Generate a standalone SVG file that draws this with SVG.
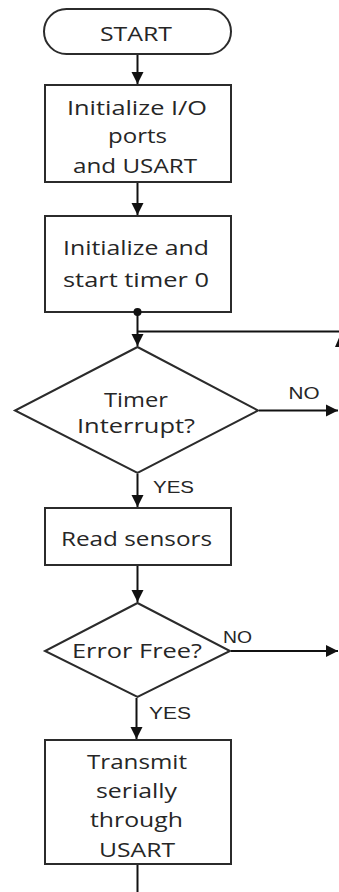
<svg xmlns="http://www.w3.org/2000/svg" width="339" height="892" viewBox="0 0 339 892">
<style>
.shape{fill:#fff;stroke:#2b2b2b;stroke-width:2}
.t{font-family:"Open Sans","Noto Sans",sans-serif;font-size:19.5px;fill:#262626;text-anchor:middle}
.lbl{font-family:"Liberation Sans",Arial,sans-serif;font-size:16px;fill:#262626;text-anchor:middle}
.c{fill:none;stroke:#111;stroke-width:2}
</style>
<defs>
<marker id="ah" markerUnits="userSpaceOnUse" markerWidth="14" markerHeight="14" viewBox="0 0 14 14" refX="12" refY="7" orient="auto">
<path d="M0,1 L12,7 L0,13 Z" fill="#111"/>
</marker>
</defs>
<g id="start">
<rect class="shape" x="44" y="9" width="187" height="45" rx="22.5"/>
<text class="t" x="136" y="41" textLength="72" lengthAdjust="spacingAndGlyphs">START</text>
</g>
<g id="init-io">
<rect class="shape" x="45" y="85" width="186" height="97"/>
<text class="t" x="137" y="115" textLength="140" lengthAdjust="spacingAndGlyphs">Initialize I/O</text>
<text class="t" x="137.5" y="143" textLength="59" lengthAdjust="spacingAndGlyphs">ports</text>
<text class="t" x="135" y="172.5" textLength="124" lengthAdjust="spacingAndGlyphs">and USART</text>
</g>
<g id="init-timer">
<rect class="shape" x="45" y="216" width="186" height="96"/>
<text class="t" x="136" y="255" textLength="146" lengthAdjust="spacingAndGlyphs">Initialize and</text>
<text class="t" x="136" y="286.5" textLength="146" lengthAdjust="spacingAndGlyphs">start timer 0</text>
</g>
<g id="timer-interrupt">
<polygon class="shape" points="137.5,347 258,410.5 137.5,473 15,410.5"/>
<text class="t" x="136" y="406.5" textLength="64" lengthAdjust="spacingAndGlyphs">Timer</text>
<text class="t" x="136" y="433" textLength="118" lengthAdjust="spacingAndGlyphs">Interrupt?</text>
</g>
<g id="read-sensors">
<rect class="shape" x="45" y="508" width="186" height="57"/>
<text class="t" x="136.5" y="546" textLength="151" lengthAdjust="spacingAndGlyphs">Read sensors</text>
</g>
<g id="error-free">
<polygon class="shape" points="137.5,603 230,651 137.5,697 45,651"/>
<text class="t" x="137" y="658" textLength="130" lengthAdjust="spacingAndGlyphs">Error Free?</text>
</g>
<g id="transmit">
<rect class="shape" x="45" y="740" width="186" height="124"/>
<text class="t" x="137" y="769" textLength="100" lengthAdjust="spacingAndGlyphs">Transmit</text>
<text class="t" x="136.5" y="798" textLength="81" lengthAdjust="spacingAndGlyphs">serially</text>
<text class="t" x="136.5" y="826.5" textLength="93" lengthAdjust="spacingAndGlyphs">through</text>
<text class="t" x="137" y="857" textLength="76" lengthAdjust="spacingAndGlyphs">USART</text>
</g>
<g id="connectors">
<line class="c" x1="137.5" y1="55" x2="137.5" y2="84" marker-end="url(#ah)"/>
<line class="c" x1="137.5" y1="183" x2="137.5" y2="215" marker-end="url(#ah)"/>
<line class="c" x1="137.5" y1="312" x2="137.5" y2="346" marker-end="url(#ah)"/>
<circle cx="137.5" cy="312" r="4" fill="#111"/>
<line class="c" x1="137.5" y1="331.5" x2="341" y2="331.5"/>
<line class="c" x1="341" y1="347" x2="341" y2="400"/>
<path d="M335,347 L341,333 L347,347 Z" fill="#111"/>
<line class="c" x1="259" y1="410.5" x2="338" y2="410.5" marker-end="url(#ah)"/>
<line class="c" x1="137.5" y1="474" x2="137.5" y2="507" marker-end="url(#ah)"/>
<line class="c" x1="137.5" y1="566" x2="137.5" y2="602" marker-end="url(#ah)"/>
<line class="c" x1="231" y1="651" x2="338" y2="651" marker-end="url(#ah)"/>
<line class="c" x1="136.5" y1="698" x2="136.5" y2="739" marker-end="url(#ah)"/>
<line class="c" x1="137.5" y1="865" x2="137.5" y2="892"/>
<text class="lbl" x="304" y="399" textLength="31" lengthAdjust="spacingAndGlyphs">NO</text>
<text class="lbl" x="173.5" y="492.5" textLength="41" lengthAdjust="spacingAndGlyphs">YES</text>
<text class="lbl" x="237.5" y="643" textLength="29" lengthAdjust="spacingAndGlyphs">NO</text>
<text class="lbl" x="170" y="719" textLength="42" lengthAdjust="spacingAndGlyphs">YES</text>
</g>
</svg>
